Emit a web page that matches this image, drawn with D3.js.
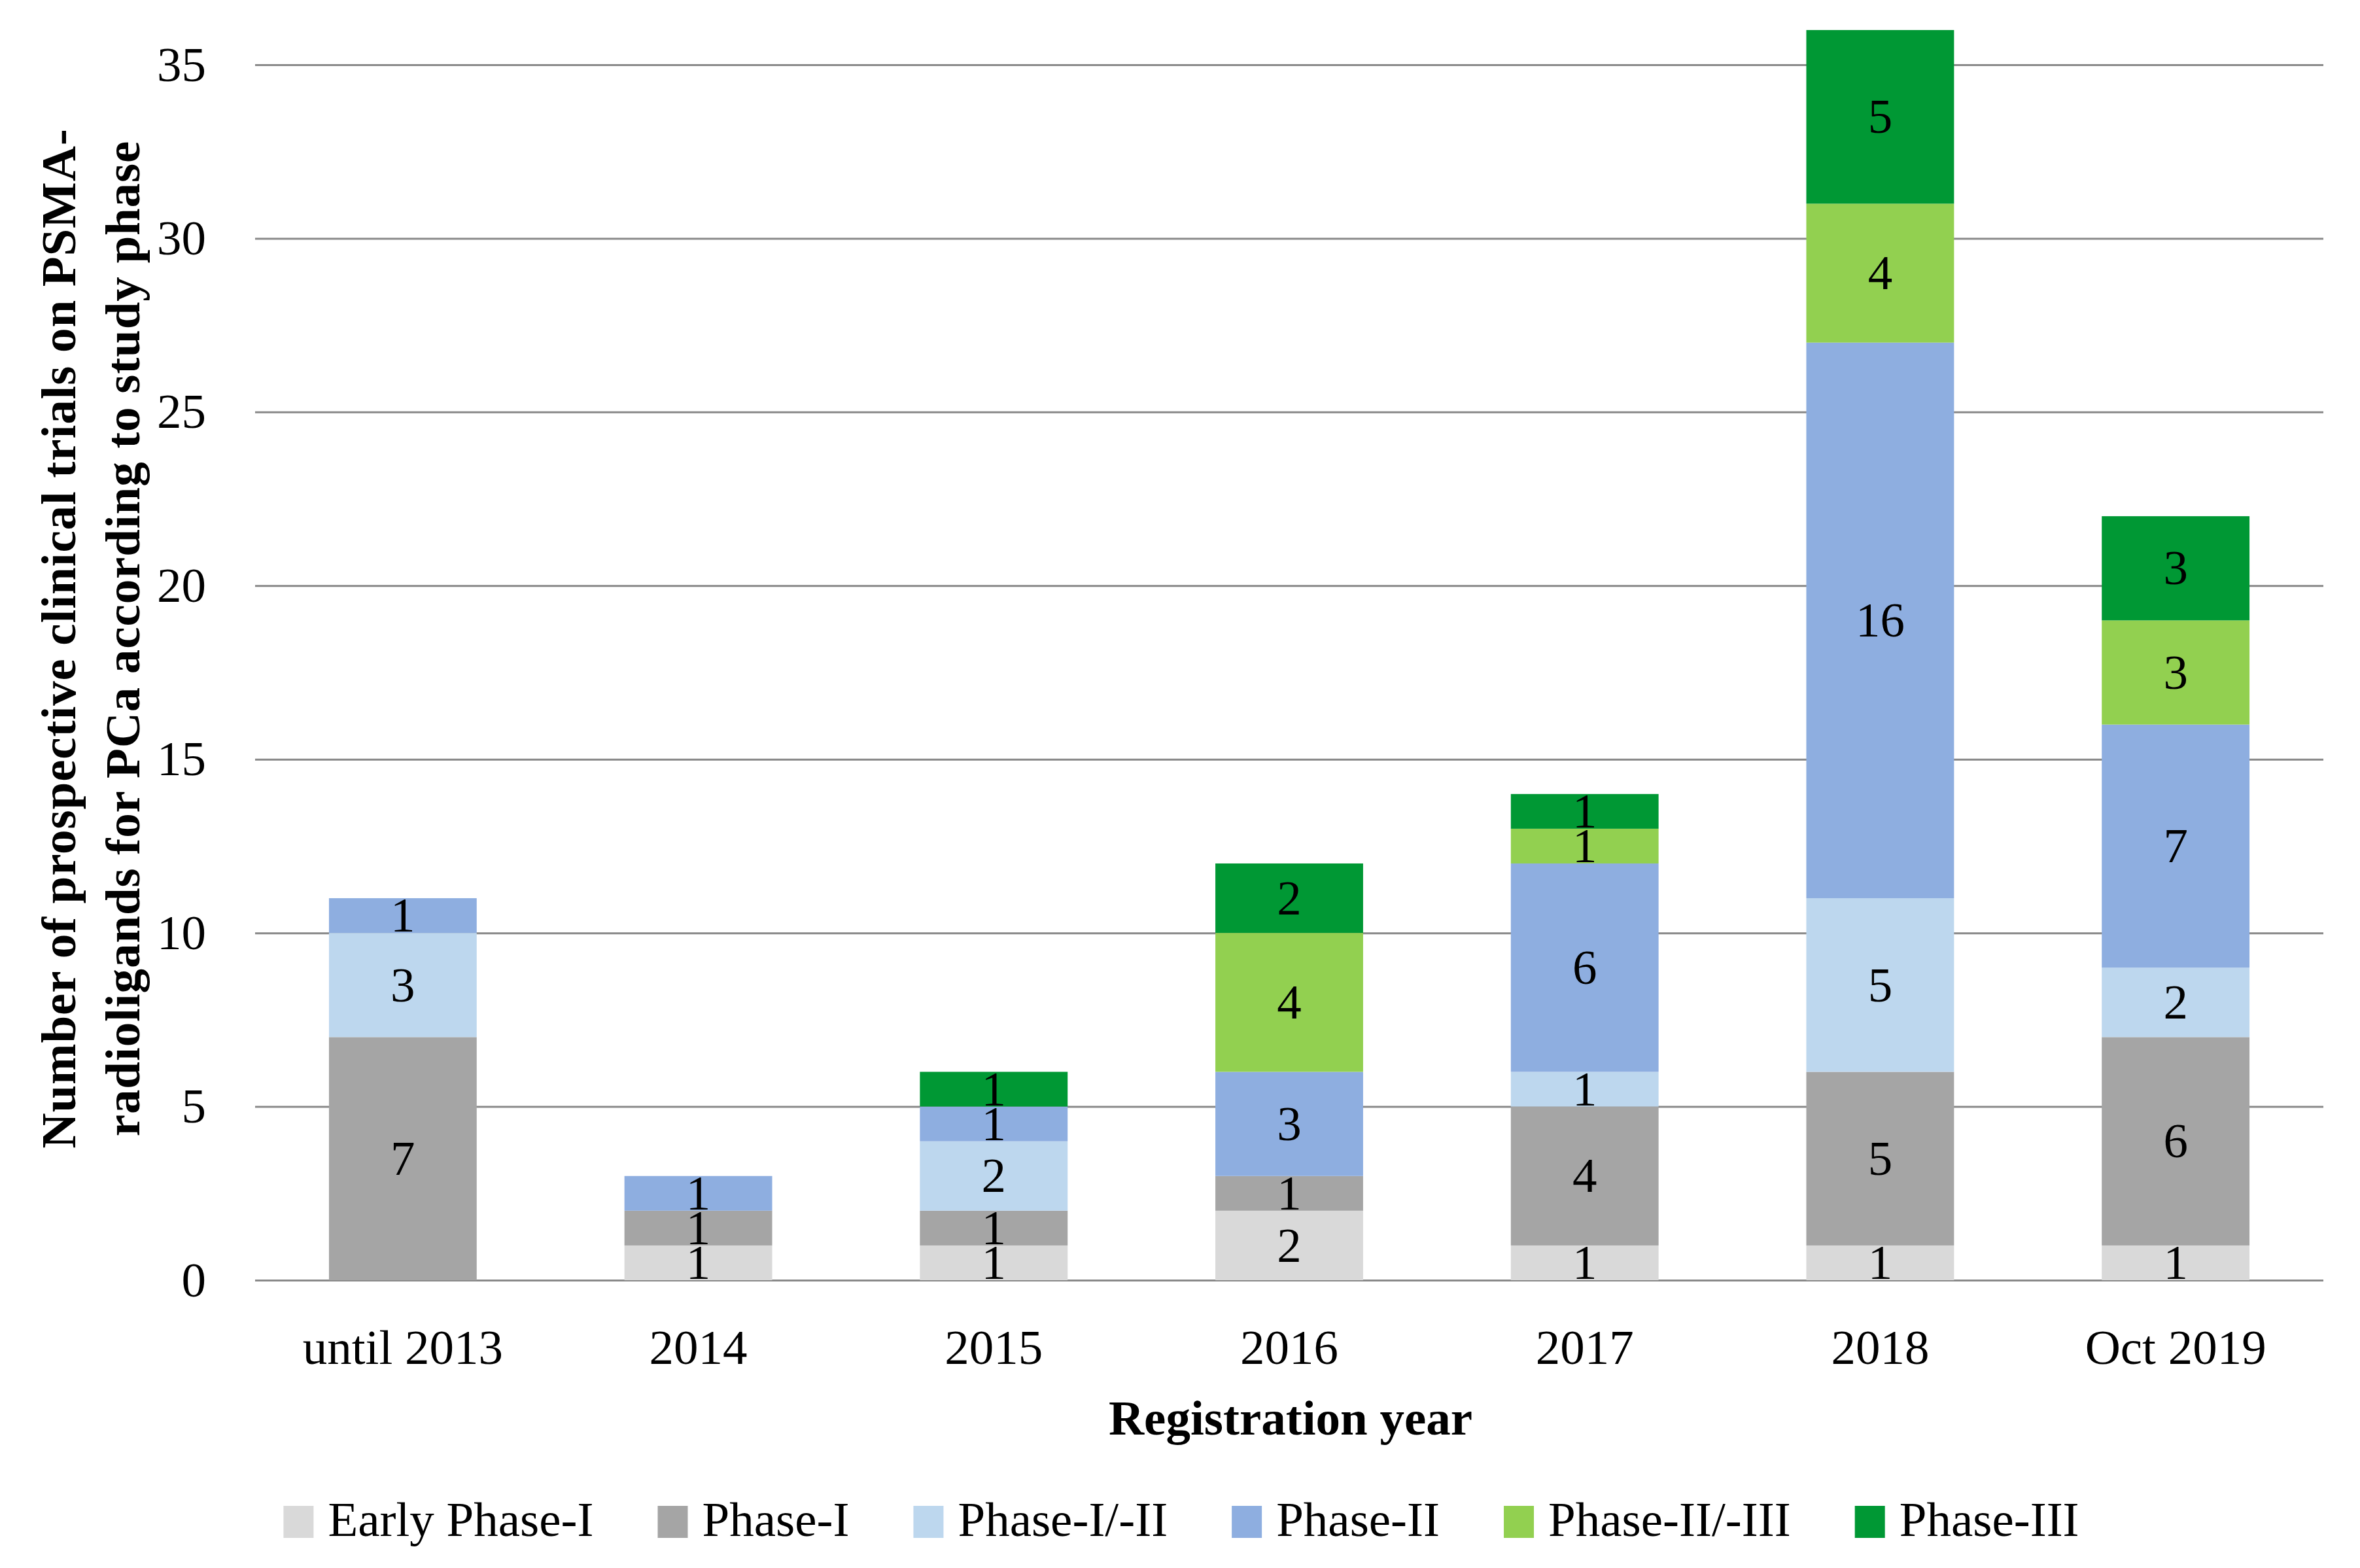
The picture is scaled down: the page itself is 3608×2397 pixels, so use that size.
<!DOCTYPE html>
<html>
<head>
<meta charset="utf-8">
<script src="https://cdn.jsdelivr.net/npm/d3@7"></script>
<style>
  html, body { margin: 0; padding: 0; background: #ffffff; }
  svg { display: block; }
  text { font-family: "Liberation Serif", "Times New Roman", serif; fill: #000; }
</style>
</head>
<body>
<svg id="chart" width="3608" height="2397"></svg>
<script>
// ---- data ----
const categories = ["until 2013", "2014", "2015", "2016", "2017", "2018", "Oct 2019"];
const seriesNames = ["Early Phase-I", "Phase-I", "Phase-I/-II", "Phase-II", "Phase-II/-III", "Phase-III"];
const earlyPhaseI  = [0, 1, 1, 2, 1, 1, 1];
const phaseI       = [7, 1, 1, 1, 4, 5, 6];
const phaseI_II    = [3, 0, 2, 0, 1, 5, 2];
const phaseII      = [1, 1, 1, 3, 6, 16, 7];
const phaseII_III  = [0, 0, 0, 4, 1, 4, 3];
const phaseIII     = [0, 0, 1, 2, 1, 5, 3];
const yTicks = [0, 5, 10, 15, 20, 25, 30, 35];
const colors = ["#d9d9d9", "#a5a5a5", "#bdd7ee", "#8eaee0", "#92d050", "#009834"];
const yTitleLines = ["Number of prospective clinical trials on PSMA-", "radioligands for PCa according to study phase"];
const xTitle = "Registration year";

const seriesValues = [earlyPhaseI, phaseI, phaseI_II, phaseII, phaseII_III, phaseIII];
const table = categories.map((c, i) => {
  const row = { cat: c };
  seriesNames.forEach((s, k) => { row[s] = seriesValues[k][i]; });
  return row;
});

// ---- layout ----
const svg = d3.select("#chart");
const left = 390, right = 3552, y0 = 1957, y35 = 99;
const FS = 75;

const x = d3.scaleBand().domain(categories).range([left, right]).paddingInner(0.5).paddingOuter(0.25);
const y = d3.scaleLinear().domain([0, 35]).range([y0, y35]);
const color = d3.scaleOrdinal().domain(seriesNames).range(colors);

// gridlines + y labels
const yAxis = svg.append("g")
  .attr("transform", `translate(${left},0)`)
  .call(d3.axisLeft(y).tickValues(yTicks).tickSize(-(right - left)).tickPadding(75).tickFormat(d3.format("d")));
yAxis.select(".domain").remove();
yAxis.selectAll(".tick line").attr("stroke", "#898989").attr("stroke-width", 3);
yAxis.selectAll(".tick text").attr("font-size", FS).attr("font-family", "Liberation Serif, serif").attr("fill", "#000");

// stacked bars
const stacked = d3.stack().keys(seriesNames)(table);
const layers = svg.append("g").selectAll("g")
  .data(stacked).join("g")
  .attr("fill", d => color(d.key));
layers.selectAll("rect")
  .data(d => d.map(p => ({ p, key: d.key })))
  .join("rect")
  .attr("x", d => x(d.p.data.cat))
  .attr("width", x.bandwidth())
  .attr("y", d => y(d.p[1]))
  .attr("height", d => y(d.p[0]) - y(d.p[1]));

// data labels
const labels = svg.append("g");
stacked.forEach(layer => {
  layer.forEach(p => {
    const v = p[1] - p[0];
    if (v > 0) {
      labels.append("text")
        .attr("x", x(p.data.cat) + x.bandwidth() / 2)
        .attr("y", (y(p[0]) + y(p[1])) / 2)
        .attr("dy", "0.33em")
        .attr("text-anchor", "middle")
        .attr("font-size", FS)
        .text(v);
    }
  });
});

// x axis labels
const xAxis = svg.append("g")
  .attr("transform", `translate(0,${y0})`)
  .call(d3.axisBottom(x).tickSize(0).tickPadding(75));
xAxis.select(".domain").remove();
xAxis.selectAll(".tick text").attr("font-size", FS).attr("font-family", "Liberation Serif, serif").attr("fill", "#000");

// x title
svg.append("text")
  .attr("x", (left + right) / 2 + 2)
  .attr("y", 2193)
  .attr("text-anchor", "middle")
  .attr("font-size", FS)
  .attr("font-weight", "bold")
  .text(xTitle);

// y title (two lines, rotated)
const yt = svg.append("text")
  .attr("transform", "translate(115,976) rotate(-90)")
  .attr("text-anchor", "middle")
  .attr("font-size", FS)
  .attr("font-weight", "bold")
  .attr("letter-spacing", 0.9);
yTitleLines.forEach((t, i) => {
  yt.append("tspan").attr("x", 0).attr("y", i * 98).text(t);
});

// legend
const legend = svg.append("g");
const sw = 46, gapText = 22, gapItem = 98;
const items = seriesNames.map(n => {
  const g = legend.append("g");
  g.append("rect").attr("width", sw).attr("height", 49).attr("y", 2302).attr("fill", color(n));
  const t = g.append("text").attr("x", sw + gapText).attr("y", 2348).attr("font-size", FS).text(n);
  return { g, w: sw + gapText + t.node().getComputedTextLength() };
});
const total = d3.sum(items, d => d.w) + gapItem * (items.length - 1);
let cx = 1806 - total / 2;
items.forEach(it => {
  it.g.attr("transform", `translate(${cx},0)`);
  cx += it.w + gapItem;
});
</script>
</body>
</html>
